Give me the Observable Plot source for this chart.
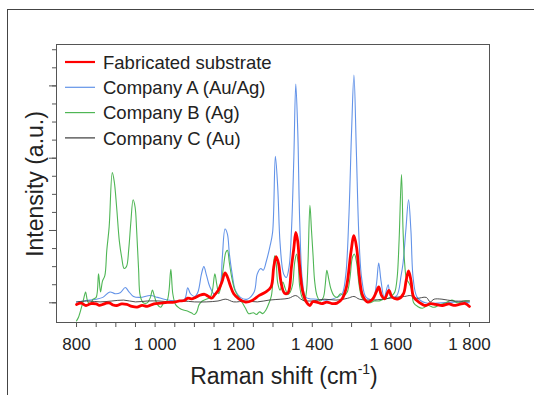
<!DOCTYPE html>
<html><head><meta charset="utf-8">
<script src="https://cdn.jsdelivr.net/npm/d3@7"></script>
<script src="https://cdn.jsdelivr.net/npm/@observablehq/plot@0.6"></script>
<style>
html,body{margin:0;padding:0;background:#fff;}
#wrap{position:relative;width:534px;height:395px;overflow:hidden;font-family:"Liberation Sans",Arial,sans-serif;}
#border{position:absolute;left:7px;top:9px;width:600px;height:500px;border-top:1.5px solid #444;border-left:1.5px solid #444;pointer-events:none;}
</style></head><body><div id="wrap"></div>
<script>
// ---- data ----
const seriesNames = ["Fabricated substrate", "Company A (Au/Ag)", "Company B (Ag)", "Company C (Au)"];
const seriesColors = ["#ff0000", "#6393e8", "#4fb655", "#3a3a3a"];

const xTickValues = [800, 1000, 1200, 1400, 1600, 1800];
const xTickLabels = ["800", "1 000", "1 200", "1 400", "1 600", "1 800"];
const xMinorTicks = [800,850,900,950,1000,1050,1100,1150,1200,1250,1300,1350,1400,1450,1500,1550,1600,1650,1700,1750,1800];
const yMinorTicks = [0,1,2,3,4,5,6,7,8,9,10,11,12,13,14];
const yMajorTicks = [0,4,8,12];

const fabShift = [800,812,824,836,850,858,867,876,885,893,902,915,928,941,954,967,980,997,1014,1031,1049,1062,1075,1083,1092,1103,1113,1126,1135,1144,1152,1161,1170,1178,1184,1191,1200,1213,1230,1247,1265,1282,1295,1302,1308,1314,1321,1329,1338,1347,1353,1358,1363,1368,1375,1385,1394,1401,1411,1424,1437,1450,1463,1476,1487,1498,1506,1513,1520,1528,1541,1554,1563,1569,1576,1584,1595,1603,1619,1632,1639,1645,1651,1658,1671,1688,1700,1714,1731,1748,1760,1774,1788,1800];
const fabIntensity = [-0.09,-0.02,-0.15,-0.05,-0.06,-0.14,-0.09,-0.02,-0.02,-0.12,-0.15,-0.06,-0.09,-0.2,-0.24,-0.14,-0.2,-0.06,-0.02,0.02,0.04,0.1,0.13,0.26,0.22,0.3,0.41,0.47,0.36,0.26,0.45,0.69,1.15,1.66,1.43,0.97,0.5,0.22,0.04,0.13,0.41,0.6,0.88,1.99,2.55,2.18,1.06,0.54,0.54,1.99,3.02,3.89,3.39,1.99,0.69,0.04,-0.15,0.06,0.04,-0.05,0.04,-0.04,-0.02,0.22,0.88,2.74,3.71,3.02,1.43,0.41,0.04,0.22,0.6,0.88,0.41,0.22,0.69,0.32,0.22,0.5,1.25,1.77,1.25,0.32,0.04,-0.15,-0.05,-0.09,-0.15,-0.06,-0.14,-0.09,-0.03,-0.2];

const aShift = [800,824,850,867,885,898,911,924,932,945,962,988,1006,1023,1040,1057,1075,1083,1090,1101,1109,1118,1124,1131,1139,1152,1165,1171,1178,1184,1189,1196,1204,1217,1234,1252,1260,1269,1275,1283,1292,1299,1306,1312,1318,1327,1334,1341,1347,1353,1358,1363,1368,1375,1384,1411,1437,1463,1476,1485,1493,1500,1506,1512,1519,1526,1537,1554,1563,1569,1575,1583,1593,1600,1615,1626,1631,1638,1645,1651,1657,1667,1688,1731,1766,1800];
const aIntensity = [0.04,0.13,0.2,0.3,0.6,0.5,0.55,0.85,0.65,0.35,0.3,0.4,0.3,0.2,0.13,0.1,0.2,0.83,0.5,0.35,0.6,1.6,2.0,1.5,0.9,0.45,0.9,2.5,4.08,3.8,2.7,1.6,0.7,0.3,0.2,0.6,1.6,1.9,1.8,2.3,3.1,3.9,8.1,6.4,3.3,1.6,1.4,2.0,4.0,8.0,12.1,9.5,4.5,1.2,0.3,0.2,0.15,0.3,0.5,1.5,4.7,9.5,12.6,8.5,3.5,1.3,0.3,0.2,1.0,2.2,1.2,0.3,1.0,0.3,0.4,1.5,2.2,4.0,5.7,4.0,1.3,0.3,0.0,0.0,0.05,0.0];

const bShift = [800,805,812,818,823,828,835,842,850,856,861,866,872,877,883,891,896,902,909,915,921,927,933,938,944,949,953,958,962,970,980,988,993,999,1006,1014,1022,1030,1035,1040,1045,1052,1062,1072,1082,1092,1100,1106,1112,1120,1130,1140,1146,1152,1157,1162,1168,1174,1180,1184,1189,1195,1203,1213,1222,1230,1238,1250,1258,1266,1274,1282,1290,1296,1300,1304,1308,1312,1318,1325,1331,1338,1344,1350,1355,1360,1364,1368,1374,1380,1385,1389,1394,1398,1402,1406,1412,1420,1428,1433,1437,1442,1447,1455,1463,1472,1480,1489,1496,1502,1507,1513,1519,1526,1535,1545,1558,1570,1582,1594,1603,1610,1616,1621,1627,1631,1635,1640,1646,1652,1658,1668,1680,1695,1710,1725,1740,1755,1770,1785,1800];
const bIntensity = [-1.0,-0.8,-0.3,0.2,0.6,0.1,-0.1,0.2,0.3,1.6,0.6,1.2,1.5,2.9,4.2,7.2,6.7,5.3,3.4,2.5,1.9,2.0,3.0,4.4,5.7,5.3,4.0,1.8,0.4,0.0,0.0,0.3,0.7,0.3,-0.1,-0.25,0.0,0.1,0.6,1.85,0.5,-0.1,-0.3,-0.4,-0.45,-0.55,-0.65,-0.5,-0.1,0.1,0.2,0.3,0.7,1.6,1.0,0.5,1.0,2.0,2.8,2.9,2.2,1.4,0.7,0.3,0.0,-0.3,-0.6,-0.55,-0.65,-0.5,-0.6,-0.4,0.0,0.4,1.3,2.6,2.2,1.1,0.7,1.15,0.8,0.45,0.6,1.0,2.2,2.7,2.2,0.9,0.3,0.1,0.6,2.2,5.4,4.0,2.6,1.2,0.4,0.1,0.3,1.0,1.8,1.3,0.8,0.4,0.3,0.5,0.4,0.6,1.4,2.5,2.7,2.2,1.0,0.3,0.1,0.0,0.1,0.1,0.2,0.25,0.4,0.6,1.4,3.5,7.1,4.0,2.2,1.3,1.1,0.8,0.0,-0.2,-0.3,-0.15,-0.25,-0.1,0.0,0.15,0.0,0.1,0.1];

const cShift = [800,830,860,890,920,950,980,1010,1040,1070,1100,1130,1160,1180,1200,1230,1260,1290,1320,1340,1358,1375,1400,1430,1460,1490,1506,1520,1550,1580,1610,1635,1650,1665,1690,1700,1710,1730,1760,1800];
const cIntensity = [0.05,0.1,0.05,0.1,0.15,0.05,0.1,0.1,0.05,0.1,0.05,0.05,0.1,0.2,0.05,0.1,0.05,0.15,0.2,0.25,0.4,0.15,0.1,0.2,0.15,0.25,0.35,0.2,0.15,0.2,0.3,0.35,0.4,0.25,0.3,0.05,0.2,0.2,0.1,0.1];

// ---- build ----
const zip = (xs, ys) => xs.map((x, i) => ({x, y: ys[i]}));
const fab = zip(fabShift, fabIntensity);
const compA = zip(aShift, aIntensity);
const compB = zip(bShift, bIntensity);
const compC = zip(cShift, cIntensity);

const plot = Plot.plot({
  width: 534, height: 395,
  marginLeft: 56, marginRight: 45, marginTop: 44, marginBottom: 73,
  x: {domain: [749, 1851]},
  y: {domain: [-1.09, 14.29]},
  style: {fontFamily: "'Liberation Sans', Arial, sans-serif", background: "transparent"},
  marks: [
    Plot.axisX(xMinorTicks, {tickSize: 5, tickFormat: () => "", label: null, stroke: "#555"}),
    Plot.axisX(xTickValues, {tickSize: 0, tickPadding: 15, tickFormat: d => xTickLabels[xTickValues.indexOf(d)], fontSize: 17, label: null, fill: "#222"}),
    Plot.axisY(yMinorTicks, {tickSize: 4, tickFormat: () => "", label: null, stroke: "#555"}),
    Plot.axisY(yMajorTicks, {tickSize: 7, tickFormat: () => "", label: null, stroke: "#555"}),
    Plot.line(compA, {x: "x", y: "y", stroke: seriesColors[1], strokeWidth: 1.1, curve: "catmull-rom"}),
    Plot.line(compB, {x: "x", y: "y", stroke: seriesColors[2], strokeWidth: 1.1, curve: "catmull-rom"}),
    Plot.line(compC, {x: "x", y: "y", stroke: seriesColors[3], strokeWidth: 0.9, curve: "catmull-rom"}),
    Plot.line(fab, {x: "x", y: "y", stroke: seriesColors[0], strokeWidth: 2.8, curve: "catmull-rom"}),
    Plot.frame({stroke: "#555", strokeWidth: 1})
  ]
});

const svg = d3.select(plot);
// axis titles
const xl = svg.append("text").attr("x", 284).attr("y", 384).attr("text-anchor", "middle")
  .attr("font-size", 23).attr("fill", "#222");
xl.append("tspan").text("Raman shift (cm");
xl.append("tspan").attr("font-size", 14).attr("dy", -10).text("-1");
xl.append("tspan").attr("dy", 10).text(")");
svg.append("text").attr("transform", "translate(43,184) rotate(-90)").attr("text-anchor", "middle")
  .attr("font-size", 23).attr("fill", "#222").text("Intensity (a.u.)");
// legend
const lg = svg.append("g").attr("text-anchor", "start");
seriesNames.forEach((name, i) => {
  const y = 62 + 25.3 * i;
  lg.append("line").attr("x1", 65).attr("x2", 95).attr("y1", y).attr("y2", y)
    .attr("stroke", seriesColors[i]).attr("stroke-width", i === 0 ? 2.2 : 1.2);
  lg.append("text").attr("x", 103).attr("y", y).attr("dy", "0.36em").attr("font-size", 18.5)
    .attr("text-anchor", "start").attr("fill", "#222").text(name);
});

const wrap = document.getElementById("wrap");
wrap.appendChild(plot);
const b = document.createElement("div"); b.id = "border"; wrap.appendChild(b);
</script></body></html>
